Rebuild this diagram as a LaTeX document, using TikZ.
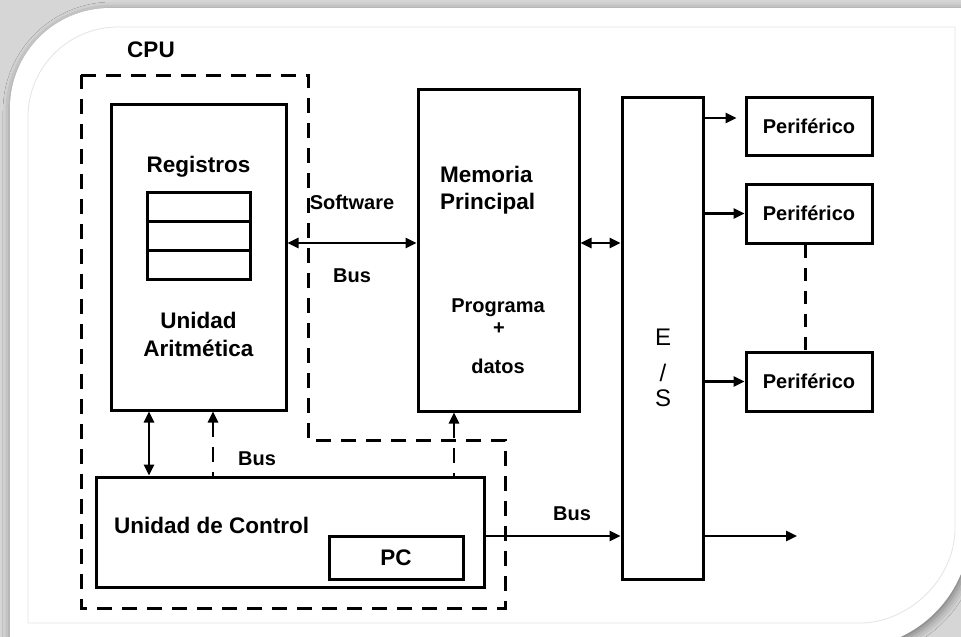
\documentclass[tikz,border=0pt]{standalone}
\usepackage{fontspec}
\setmainfont{Liberation Sans}
\usetikzlibrary{arrows.meta,shadows.blur}

\definecolor{bggray}{RGB}{214,214,214}
\definecolor{rimgray}{RGB}{228,228,228}

\begin{document}
\begin{tikzpicture}[x=1pt,y=-1pt,
  box/.style={draw, line width=3pt, inner sep=0pt, text height=15pt, text depth=0pt},
  lbl/.style={font=\bfseries\fontsize{22.5}{27}\selectfont, inner sep=0pt},
  slbl/.style={font=\bfseries\fontsize{20}{24}\selectfont, inner sep=0pt},
  eslbl/.style={font=\fontsize{24}{29}\selectfont, inner sep=0pt},
  tip/.tip={Triangle[length=11pt,width=10pt]},
  conn/.style={line width=2.5pt, -tip},
  dconn/.style={line width=2.5pt, tip-tip},
  dashback/.style={line width=2.5pt, tip-, dash pattern=on 15pt off 10pt},
  cpuline/.style={line width=3pt, dash pattern=on 15pt off 10pt},
]
\useasboundingbox (0,0) rectangle (961,637);

% card background with soft shadow
\begin{scope}
  \clip (0,0) rectangle (961,637);
  \fill[bggray] (-5,-5) rectangle (966,642);
  \fill[white, blur shadow={shadow xshift=2pt, shadow yshift=-3pt,
        shadow blur radius=9pt, shadow opacity=45}]
    (10,660) -- (10,108) .. controls (10,52.8) and (54.8,8) .. (110,8)
    -- (970,8) -- (970,528) .. controls (970,594.3) and (916.3,648) .. (850,648)
    -- (10,648) -- cycle;
  \draw[rimgray, line width=0.8pt]
    (28,623) -- (28,117) .. controls (28,67.3) and (68.3,27) .. (118,27)
    -- (955,27) -- (955,528) .. controls (955,580.5) and (907.5,623) .. (860,623)
    -- cycle;
\end{scope}

% CPU boundary
\draw[cpuline] (81,75) -- (308,75) -- (308,440) -- (505,440) -- (505,608) -- (81,608) -- cycle;
\node[lbl, anchor=base] (tcpu) at (151,57) {CPU};

% arithmetic unit with its registers
\node[box, minimum width=175pt, minimum height=306pt] (alu) at (198.5,257) {};
\node[lbl, anchor=base] (treg) at (198.5,172) {Registros};
\node[box, minimum width=103pt, minimum height=29pt] (reg1) at (198.5,206.5) {};
\node[box, minimum width=103pt, minimum height=29pt] (reg2) at (198.5,235.5) {};
\node[box, minimum width=103pt, minimum height=29pt] (reg3) at (198.5,264.5) {};
\node[lbl, anchor=base] (tuni) at (198.5,328) {Unidad};
\node[lbl, anchor=base] (tari) at (198.5,356) {Aritmética};

% main memory
\node[box, minimum width=161pt, minimum height=322pt] (mem) at (498.5,250) {};
\node[lbl, anchor=base west] (tmem1) at (440,182) {Memoria};
\node[lbl, anchor=base west] (tmem2) at (440,209) {Principal};
\node[slbl, anchor=base] (tprog) at (498,312) {Programa};
\node[slbl] (tplus) at (499,329) {+};
\node[slbl, anchor=base] (tdat) at (498,373) {datos};

% input/output block
\node[box, minimum width=81pt, minimum height=482pt] (es) at (662.5,338) {};
\node[eslbl, anchor=base] (te) at (663,345) {E};
\node[eslbl, anchor=base] (tsl) at (663,381) {/};
\node[eslbl, anchor=base] (ts) at (663,406) {S};

% peripherals
\node[box, slbl, text height=14.3pt, minimum width=126pt, minimum height=58pt] (p1) at (809,126) {Periférico};
\node[box, slbl, text height=14.3pt, minimum width=126pt, minimum height=59pt] (p2) at (809,213.5) {Periférico};
\node[box, slbl, text height=14.3pt, minimum width=126pt, minimum height=59pt] (p3) at (809,381.5) {Periférico};

% control unit
\node[box, minimum width=388pt, minimum height=110pt] (cu) at (290,532) {};
\node[lbl, anchor=base west] (tcu) at (114,533) {Unidad de Control};
\node[box, lbl, minimum width=134pt, minimum height=43pt] (pc) at (396,557.5) {PC};

% reference rows and columns for the connectors
\coordinate (rowbus) at (0,243);
\coordinate (rowp1) at (0,118);
\coordinate (rowcu) at (0,536);
\coordinate (colv1) at (149,0);
\coordinate (colv2) at (213,0);
\coordinate (colv3) at (454,0);
\coordinate (outend) at (797,536);

% buses
\draw[dconn] (alu.east |- rowbus) -- (mem.west |- rowbus);
\node[slbl, anchor=base] (tsoft) at (352,209) {Software};
\node[slbl, anchor=base] (tbus1) at (352,282) {Bus};
\draw[dconn] (mem.east |- rowbus) -- (es.west |- rowbus);

\draw[dconn] (alu.south -| colv1) -- (cu.north -| colv1);
\draw[dashback] (alu.south -| colv2) -- (cu.north -| colv2);
\node[slbl, anchor=base] (tbus2) at (257,465) {Bus};
\draw[dashback] (mem.south -| colv3) -- (cu.north -| colv3);

\draw[conn] (cu.east |- rowcu) -- (es.west |- rowcu);
\node[slbl, anchor=base] (tbus3) at (572,520) {Bus};

% outputs to the peripherals
\draw[conn, shorten >=8pt] (es.east |- rowp1) -- (p1.west |- rowp1);
\draw[conn] (es.east |- p2.west) -- (p2.west);
\draw[conn] (es.east |- p3.west) -- (p3.west);
\draw[conn] (es.east |- outend) -- (outend);
\draw[line width=3pt, dash pattern=on 13pt off 10pt] ([xshift=-4pt]p2.south) -- ([xshift=-4pt]p3.north);
\end{tikzpicture}
\end{document}
